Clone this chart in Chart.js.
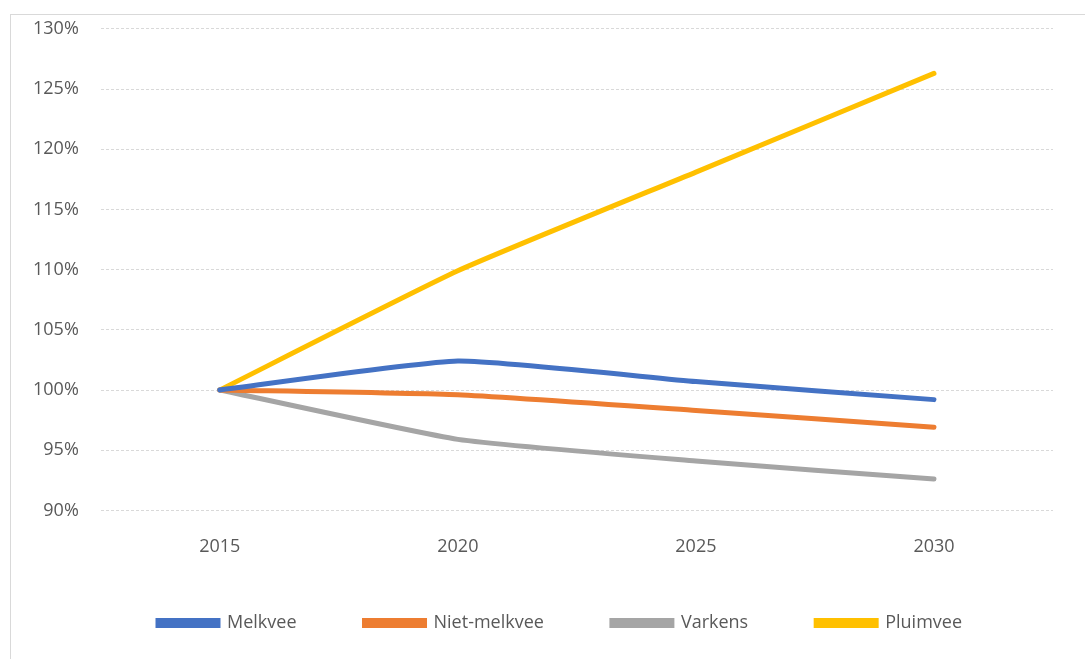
<!DOCTYPE html>
<html>
<head>
<meta charset="utf-8">
<script src="https://cdn.jsdelivr.net/npm/chart.js@4/dist/chart.umd.min.js"></script>
<style>
  body { margin: 0; background: #fff; }
  #frame { position: absolute; left: 10px; top: 14px; width: 1085px; height: 650px; border: 1px solid #d9d9d9; box-sizing: border-box; overflow: hidden; }
  #wrap { position: absolute; left: 0; top: -19px; width: 1075px; height: 682px; }
</style>
</head>
<body>
<div id="frame"><div id="wrap"><canvas id="myChart"></canvas></div></div>
<script>
const years = ['2015', '2020', '2025', '2030'];
const melkvee = [1.000, 1.024, 1.007, 0.992];
const nietMelkvee = [1.000, 0.996, 0.983, 0.969];
const varkens = [1.000, 0.959, 0.941, 0.926];
const pluimvee = [1.000, 1.099, 1.181, 1.263];

const font = { family: 'Open Sans, Liberation Sans, sans-serif', size: 18 };

function series(label, data, color) {
  return {
    label: label,
    data: data,
    borderColor: color,
    backgroundColor: color,
    borderWidth: 5,
    pointRadius: 0,
    tension: 0.15,
    borderCapStyle: 'round'
  };
}

// nudge the legend into the spot it has in the picture
const moveLegend = {
  id: 'moveLegend',
  afterLayout(chart) {
    const lg = chart.legend;
    lg.left += 28; lg.right += 28;
    lg.top -= 30; lg.bottom -= 30;
  }
};

const ctx = document.getElementById('myChart').getContext('2d');
new Chart(ctx, {
  type: 'line',
  data: {
    labels: years,
    datasets: [
      series('Melkvee', melkvee, '#4472c4'),
      series('Niet-melkvee', nietMelkvee, '#ed7d31'),
      series('Varkens', varkens, '#a5a5a5'),
      series('Pluimvee', pluimvee, '#ffc000')
    ]
  },
  plugins: [moveLegend],
  options: {
    responsive: true,
    maintainAspectRatio: false,
    animation: false,
    layout: { padding: { left: 0, right: 33, top: 2, bottom: 6 } },
    plugins: {
      tooltip: { enabled: false },
      legend: {
        position: 'bottom',
        labels: {
          color: '#595959',
          font: font,
          boxWidth: 60,
          boxHeight: 5,
          padding: 68
        }
      }
    },
    scales: {
      x: {
        offset: true,
        grid: { display: false },
        border: { display: false },
        ticks: { color: '#595959', font: font, padding: 18 }
      },
      y: {
        min: 0.9,
        max: 1.3,
        grid: { color: '#d9d9d9', drawTicks: false },
        border: { display: false, dash: [3, 2] },
        ticks: {
          stepSize: 0.05,
          color: '#595959',
          font: font,
          padding: 22,
          callback: v => Math.round(v * 100) + '%'
        }
      }
    }
  }
});
</script>
</body>
</html>
